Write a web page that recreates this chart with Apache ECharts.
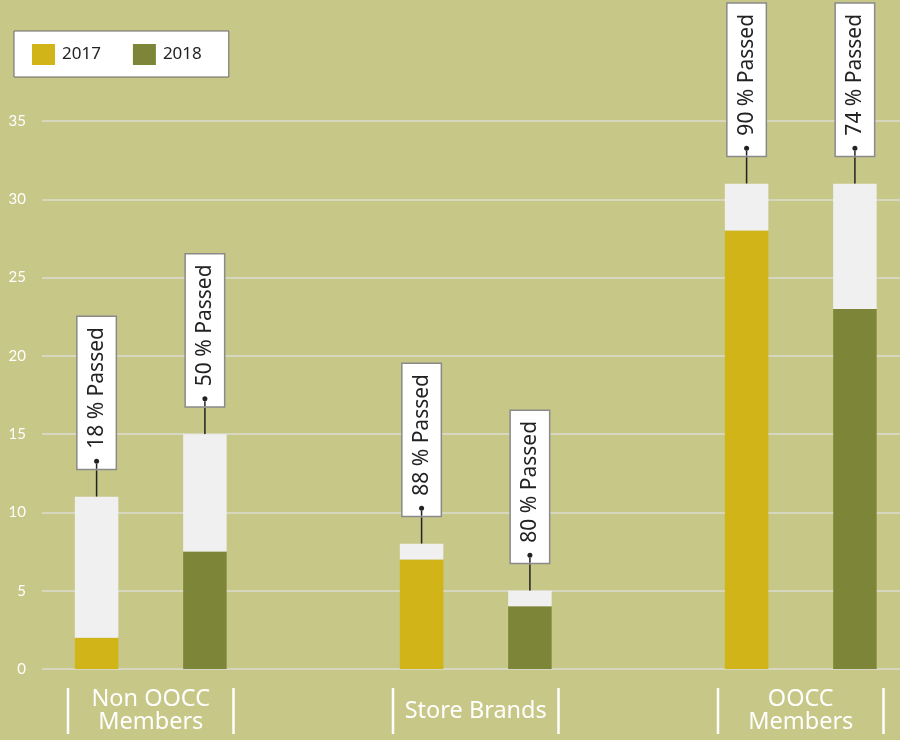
<!DOCTYPE html>
<html>
<head>
<meta charset="utf-8">
<script src="https://cdn.jsdelivr.net/npm/echarts@6/dist/echarts.min.js"></script>
<style>
  html, body { margin: 0; padding: 0; background: #c7c787; }
  #main { width: 900px; height: 740px; }
</style>
</head>
<body>
<div id="main"></div>
<script>
// data
var categories = ['Non OOCC\nMembers', 'Store Brands', 'OOCC\nMembers'];
var years = ['2017', '2018'];
var passed2017 = [2, 7, 28];
var total2017 = [11, 8, 31];
var passed2018 = [7.5, 4, 23];
var total2018 = [15, 5, 31];
var yTicks = [0, 35, 5]; // min, max, interval

var chart = echarts.init(document.getElementById('main'));

function rest(total, passed) {
  return total.map(function (t, i) { return t - passed[i]; });
}

function passLabel(total, passed) {
  return {
    show: true,
    position: 'top',
    distance: 28,
    rotate: 90,
    align: 'left',
    verticalAlign: 'middle',
    backgroundColor: '#fff',
    borderColor: '#8a8a8a',
    borderWidth: 1.5,
    padding: [6, 10, 6, 0],
    formatter: function (p) {
      var pct = Math.round(passed[p.dataIndex] / total[p.dataIndex] * 100);
      return '{s|}{d|}{g|}{t|' + pct + ' % Passed}';
    },
    rich: {
      s: { width: 5, height: 1.5, backgroundColor: '#222' },
      d: { width: 5, height: 5, borderRadius: 2.5, backgroundColor: '#222' },
      g: { width: 10, height: 5 },
      t: { fontSize: 21, fontFamily: 'Noto Sans', color: '#222', lineHeight: 26 }
    }
  };
}

var option = {
  backgroundColor: '#c7c787',
  animation: false,
  legend: {
    left: 14,
    top: 31,
    data: years,
    backgroundColor: '#fff',
    borderColor: '#666',
    borderWidth: 1,
    padding: [13, 27, 12, 18],
    itemWidth: 23,
    itemHeight: 21,
    itemGap: 32,
    icon: 'rect',
    textStyle: { fontSize: 17, fontFamily: 'Noto Sans', color: '#222', padding: [0, 0, 0, 2] }
  },
  grid: [
    { left: -11.75, width: 975, top: 121, bottom: 71, outerBoundsMode: 'none', containLabel: false },
    { left: 42, right: 0, top: 121, bottom: 71, outerBoundsMode: 'none', containLabel: false }
  ],
  xAxis: [
    {
      type: 'category',
      gridIndex: 0,
      data: categories,
      axisLine: { show: false },
      axisTick: { show: false },
      axisLabel: {
        margin: 19,
        formatter: function (v) {
          var lines = v.split('\n');
          if (lines.length === 1) return '{b|}{t|' + v + '}{b|}';
          return lines.map(function (l) { return '{h|}{t|' + l + '}{h|}'; }).join('\n');
        },
        rich: {
          b: { width: 2.5, height: 46, backgroundColor: '#fff' },
          h: { width: 2.5, height: 23, backgroundColor: '#fff' },
          t: { width: 163, align: 'center', fontSize: 23.5, fontFamily: 'Noto Sans', color: '#fff', lineHeight: 23 }
        }
      }
    },
    {
      type: 'category',
      gridIndex: 1,
      data: categories,
      show: false
    }
  ],
  yAxis: [
    {
      type: 'value',
      gridIndex: 0,
      min: yTicks[0], max: yTicks[1], interval: yTicks[2],
      show: false,
      splitLine: { show: false }
    },
    {
      type: 'value',
      gridIndex: 1,
      min: yTicks[0], max: yTicks[1], interval: yTicks[2],
      axisLine: { show: false },
      axisTick: { show: false },
      splitLine: { lineStyle: { color: '#dcdcd2', width: 1.5 } },
      axisLabel: { margin: 16, fontSize: 15, fontFamily: 'Lato', color: '#fff' }
    }
  ],
  series: [
    {
      name: '2017', type: 'bar', stack: 'a', barWidth: 43.5, barGap: '149%',
      itemStyle: { color: '#d1b418' },
      data: passed2017
    },
    {
      name: '2017 rest', type: 'bar', stack: 'a', barWidth: 43.5, barGap: '149%',
      itemStyle: { color: '#f0f0f0' },
      label: passLabel(total2017, passed2017),
      labelLine: { show: true, lineStyle: { color: '#222', width: 1.5 } },
      data: rest(total2017, passed2017)
    },
    {
      name: '2018', type: 'bar', stack: 'b', barWidth: 43.5, barGap: '149%',
      itemStyle: { color: '#7d8638' },
      data: passed2018
    },
    {
      name: '2018 rest', type: 'bar', stack: 'b', barWidth: 43.5, barGap: '149%',
      itemStyle: { color: '#f0f0f0' },
      label: passLabel(total2018, passed2018),
      labelLine: { show: true, lineStyle: { color: '#222', width: 1.5 } },
      data: rest(total2018, passed2018)
    }
  ]
};

chart.setOption(option);
</script>
</body>
</html>
